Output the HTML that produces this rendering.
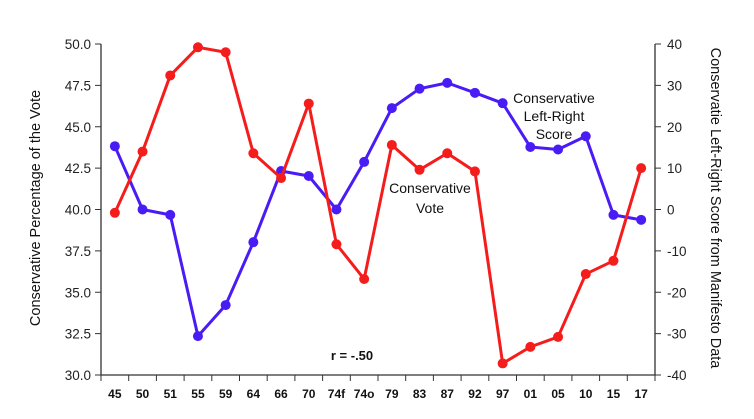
<!DOCTYPE html>
<html><head><meta charset="utf-8"><style>
body{margin:0;background:#fff;}
svg{display:block;font-family:"Liberation Sans",Arial,sans-serif;}
</style></head><body>
<svg id="c" width="754" height="419" viewBox="0 0 754 419"></svg>
<script>
const categories=["45","50","51","55","59","64","66","70","74f","74o","79","83","87","92","97","01","05","10","15","17"];
const voteValues=[39.8,43.5,48.1,49.8,49.5,43.4,41.9,46.4,37.9,35.8,43.9,42.4,43.4,42.3,30.7,31.7,32.3,36.1,36.9,42.5];
const scoreValues=[15.3,0,-1.3,-30.6,-23.1,-7.9,9.3,8.1,0,11.5,24.5,29.2,30.6,28.2,25.7,15.1,14.5,17.7,-1.3,-2.5];
const leftTicks=["30.0","32.5","35.0","37.5","40.0","42.5","45.0","47.5","50.0"];
const rightTicks=["-40","-30","-20","-10","0","10","20","30","40"];
const NS="http://www.w3.org/2000/svg";
const svg=document.getElementById('c');
const X0=101,X1=655,Y0=375,Y1=44;
const step=(X1-X0)/categories.length;
function xs(i){return X0+step*(i+0.5);}
function yl(v){return Y0-(v-30)/20*(Y0-Y1);}
function yr(v){return Y0-(v+40)/80*(Y0-Y1);}
function mk(t,a,txt){const e=document.createElementNS(NS,t);for(const k in a)e.setAttribute(k,a[k]);if(txt!=null)e.textContent=txt;svg.appendChild(e);return e;}
let e;
e=mk('path',{d:`M${X0} ${Y1}V${Y0}H${X1}V${Y1}`,fill:'none',stroke:'#333','stroke-width':1.3});


leftTicks.forEach(t=>{const y=yl(+t);
 e=mk('line',{x1:X0-6,x2:X0,y1:y,y2:y,stroke:'#333'});
 
 
 e=mk('text',{x:X0-10,y:y+5,'text-anchor':'end','font-size':13.5,fill:'#222'},t);
 
 
});
rightTicks.forEach(t=>{const y=yr(+t);
 e=mk('line',{x1:X1,x2:X1+6,y1:y,y2:y,stroke:'#333'});
 
 
 e=mk('text',{x:X1+12,y:y+5,'text-anchor':'start','font-size':13.5,fill:'#222'},t);
 
 
});
for(let i=0;i<=categories.length;i++){const x=X0+step*i;
 e=mk('line',{x1:x,x2:x,y1:Y0,y2:Y0+6,stroke:'#333'});
 
 
}
categories.forEach((c,i)=>{
 e=mk('text',{x:xs(i),y:398,'text-anchor':'middle','font-size':12,'font-weight':'bold',fill:'#111'},c);
 
 
});
e=mk('text',{x:40,y:208,'text-anchor':'middle','font-size':14.5,fill:'#111',transform:'rotate(-90 40 208)'},'Conservative Percentage of the Vote');


e=mk('text',{x:711,y:208,'text-anchor':'middle','font-size':14.5,fill:'#111',transform:'rotate(90 711 208)'},'Conservatie Left-Right Score from Manifesto Data');


function series(vals,ys,col,name){
 e=mk('polyline',{points:vals.map((v,i)=>xs(i)+','+ys(v)).join(' '),fill:'none',stroke:col,'stroke-width':3,'stroke-linejoin':'round'});
 
 
 vals.forEach((v,i)=>{
  e=mk('circle',{cx:xs(i),cy:ys(v),r:5,fill:col});
  
  
 });
}
series(scoreValues,yr,'#4a1cf5','score');
series(voteValues,yl,'#f51c1c','vote');
[['Conservative',554,103],['Left-Right',554,121],['Score',554,139]].forEach(a=>{
 e=mk('text',{x:a[1],y:a[2],'text-anchor':'middle','font-size':14,fill:'#111'},a[0]);
 
 
});
[['Conservative',430,193],['Vote',430,213]].forEach(a=>{
 e=mk('text',{x:a[1],y:a[2],'text-anchor':'middle','font-size':14,fill:'#111'},a[0]);
 
 
});
e=mk('text',{x:352,y:360,'text-anchor':'middle','font-size':13,'font-weight':'bold',fill:'#111'},'r = -.50');


</script>
</body></html>
